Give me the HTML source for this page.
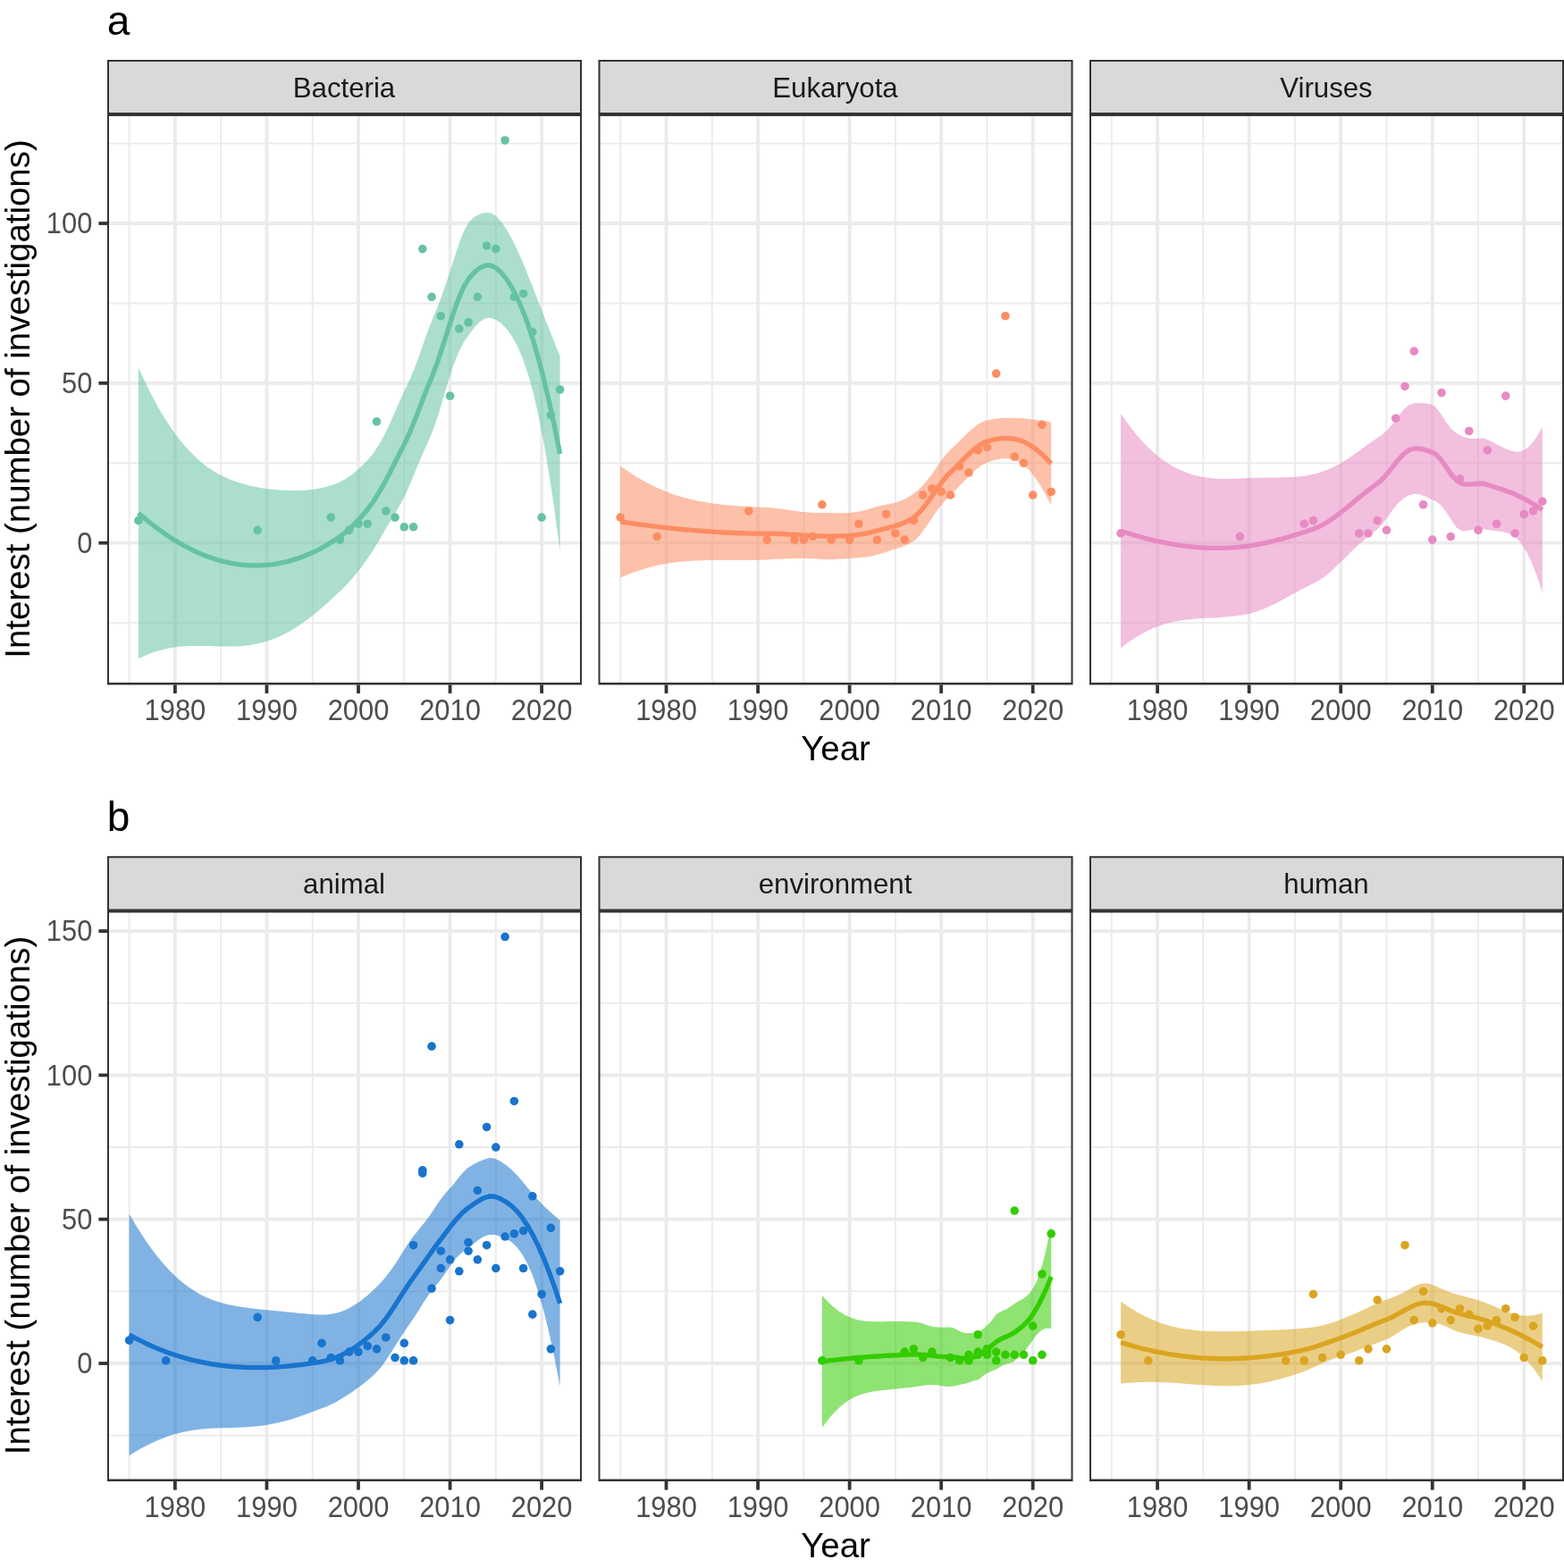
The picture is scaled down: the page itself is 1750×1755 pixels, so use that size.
<!DOCTYPE html>
<html><head><meta charset="utf-8"><title>Interest over time</title>
<style>html,body{margin:0;padding:0;background:#fff;overflow:hidden;}svg{display:block;}text{font-family:"Liberation Sans",Arial,sans-serif;}</style></head><body>
<svg width="1750" height="1755" viewBox="0 0 1750 1755">
<rect x="0" y="0" width="1750" height="1755" fill="#fff"/>
<clipPath id="clip00"><rect x="120" y="128" width="531" height="638.5"/></clipPath>
<g clip-path="url(#clip00)">
<line x1="144.62" y1="128" x2="144.62" y2="766.5" stroke="#EBEBEB" stroke-width="1.9"/>
<line x1="247.18" y1="128" x2="247.18" y2="766.5" stroke="#EBEBEB" stroke-width="1.9"/>
<line x1="349.73" y1="128" x2="349.73" y2="766.5" stroke="#EBEBEB" stroke-width="1.9"/>
<line x1="452.27" y1="128" x2="452.27" y2="766.5" stroke="#EBEBEB" stroke-width="1.9"/>
<line x1="554.83" y1="128" x2="554.83" y2="766.5" stroke="#EBEBEB" stroke-width="1.9"/>
<line x1="120" y1="697.12" x2="651" y2="697.12" stroke="#EBEBEB" stroke-width="1.9"/>
<line x1="120" y1="518.28" x2="651" y2="518.28" stroke="#EBEBEB" stroke-width="1.9"/>
<line x1="120" y1="339.43" x2="651" y2="339.43" stroke="#EBEBEB" stroke-width="1.9"/>
<line x1="120" y1="160.58" x2="651" y2="160.58" stroke="#EBEBEB" stroke-width="1.9"/>
<line x1="195.9" y1="128" x2="195.9" y2="766.5" stroke="#EBEBEB" stroke-width="3.8"/>
<line x1="298.45" y1="128" x2="298.45" y2="766.5" stroke="#EBEBEB" stroke-width="3.8"/>
<line x1="401" y1="128" x2="401" y2="766.5" stroke="#EBEBEB" stroke-width="3.8"/>
<line x1="503.55" y1="128" x2="503.55" y2="766.5" stroke="#EBEBEB" stroke-width="3.8"/>
<line x1="606.1" y1="128" x2="606.1" y2="766.5" stroke="#EBEBEB" stroke-width="3.8"/>
<line x1="120" y1="607.7" x2="651" y2="607.7" stroke="#EBEBEB" stroke-width="3.8"/>
<line x1="120" y1="428.85" x2="651" y2="428.85" stroke="#EBEBEB" stroke-width="3.8"/>
<line x1="120" y1="250" x2="651" y2="250" stroke="#EBEBEB" stroke-width="3.8"/>
<polygon points="154.88,411.18 160.85,424.3 166.82,436.62 172.79,448.15 178.77,458.91 184.74,468.88 190.71,478.08 196.68,486.54 202.65,494.26 208.62,501.27 214.59,507.61 220.56,513.3 226.54,518.39 232.51,522.92 238.48,526.92 244.45,530.44 250.42,533.53 256.39,536.22 262.36,538.57 268.33,540.59 274.31,542.33 280.28,543.82 286.25,545.08 292.22,546.14 298.19,547.02 304.16,547.73 310.13,548.27 316.1,548.66 322.08,548.9 328.05,548.98 334.02,548.9 339.99,548.64 345.96,548.18 351.93,547.49 357.9,546.54 363.87,545.26 369.85,543.61 375.82,541.5 381.79,538.85 387.76,535.41 393.73,531.21 399.7,526.32 405.67,520.81 411.64,514.66 417.62,507.43 423.59,498.59 429.56,487.91 435.53,475.55 441.5,462.12 447.47,448.53 453.44,435.83 459.41,422.87 465.39,408.21 471.36,391.62 477.33,374.32 483.3,358.8 489.27,344.3 495.24,328.46 501.21,311.04 507.18,292.38 513.16,273.95 519.13,258.28 525.1,248.25 531.07,242.75 537.04,239.52 543.01,237.92 548.98,238.26 554.95,241.77 560.93,248.33 566.9,256.96 572.87,267.5 578.84,279.74 584.81,293.35 590.78,307.94 596.75,323.09 602.72,338.4 608.7,353.63 614.67,368.72 620.64,383.8 626.61,399.03 626.61,616.95 620.64,572.49 614.67,532.34 608.7,496.75 602.72,465.93 596.75,439.91 590.78,418.49 584.81,401.15 578.84,387.32 572.87,376.48 566.9,368.2 560.93,362.1 554.95,357.92 548.98,355.74 543.01,356.27 537.04,359.95 531.07,366.34 525.1,374.02 519.13,382.64 513.16,394.32 507.18,409.37 501.21,427.65 495.24,447.94 489.27,467.91 483.3,484.63 477.33,498.14 471.36,511.63 465.39,526.01 459.41,540.86 453.44,554.35 447.47,565.3 441.5,575.43 435.53,585.33 429.56,595.38 423.59,605.63 417.62,615.67 411.64,624.77 405.67,632.88 399.7,640.66 393.73,647.93 387.76,654.58 381.79,660.54 375.82,666.04 369.85,671.51 363.87,676.9 357.9,682.13 351.93,687.15 345.96,691.91 339.99,696.37 334.02,700.51 328.05,704.3 322.08,707.73 316.1,710.8 310.13,713.51 304.16,715.86 298.19,717.86 292.22,719.52 286.25,720.85 280.28,721.89 274.31,722.65 268.33,723.16 262.36,723.46 256.39,723.57 250.42,723.55 244.45,723.43 238.48,723.26 232.51,723.08 226.54,722.94 220.56,722.88 214.59,722.95 208.62,723.18 202.65,723.61 196.68,724.28 190.71,725.22 184.74,726.43 178.77,727.95 172.79,729.78 166.82,731.94 160.85,734.42 154.88,737.24" fill="#66C2A5" fill-opacity="0.55"/>
<circle cx="154.88" cy="582.66" r="4.8" fill="#66C2A5"/>
<circle cx="288.19" cy="593.39" r="4.8" fill="#66C2A5"/>
<circle cx="370.24" cy="579.08" r="4.8" fill="#66C2A5"/>
<circle cx="380.49" cy="604.12" r="4.8" fill="#66C2A5"/>
<circle cx="390.75" cy="593.39" r="4.8" fill="#66C2A5"/>
<circle cx="401" cy="586.24" r="4.8" fill="#66C2A5"/>
<circle cx="411.25" cy="586.24" r="4.8" fill="#66C2A5"/>
<circle cx="421.51" cy="471.77" r="4.8" fill="#66C2A5"/>
<circle cx="431.76" cy="571.93" r="4.8" fill="#66C2A5"/>
<circle cx="442.02" cy="579.08" r="4.8" fill="#66C2A5"/>
<circle cx="452.27" cy="589.82" r="4.8" fill="#66C2A5"/>
<circle cx="462.53" cy="589.82" r="4.8" fill="#66C2A5"/>
<circle cx="472.79" cy="278.62" r="4.8" fill="#66C2A5"/>
<circle cx="483.04" cy="332.27" r="4.8" fill="#66C2A5"/>
<circle cx="493.3" cy="353.73" r="4.8" fill="#66C2A5"/>
<circle cx="503.55" cy="443.16" r="4.8" fill="#66C2A5"/>
<circle cx="513.81" cy="368.04" r="4.8" fill="#66C2A5"/>
<circle cx="524.06" cy="360.89" r="4.8" fill="#66C2A5"/>
<circle cx="534.32" cy="332.27" r="4.8" fill="#66C2A5"/>
<circle cx="544.57" cy="275.04" r="4.8" fill="#66C2A5"/>
<circle cx="554.83" cy="278.62" r="4.8" fill="#66C2A5"/>
<circle cx="565.08" cy="157" r="4.8" fill="#66C2A5"/>
<circle cx="575.34" cy="332.27" r="4.8" fill="#66C2A5"/>
<circle cx="585.59" cy="328.69" r="4.8" fill="#66C2A5"/>
<circle cx="595.85" cy="371.62" r="4.8" fill="#66C2A5"/>
<circle cx="606.1" cy="579.08" r="4.8" fill="#66C2A5"/>
<circle cx="616.36" cy="464.62" r="4.8" fill="#66C2A5"/>
<circle cx="626.61" cy="436" r="4.8" fill="#66C2A5"/>
<polyline points="154.88,574.21 160.85,579.36 166.82,584.28 172.79,588.97 178.77,593.43 184.74,597.66 190.71,601.65 196.68,605.41 202.65,608.94 208.62,612.23 214.59,615.28 220.56,618.09 226.54,620.67 232.51,623 238.48,625.09 244.45,626.94 250.42,628.54 256.39,629.9 262.36,631.01 268.33,631.87 274.31,632.49 280.28,632.85 286.25,632.97 292.22,632.83 298.19,632.44 304.16,631.79 310.13,630.89 316.1,629.73 322.08,628.32 328.05,626.64 334.02,624.7 339.99,622.51 345.96,620.05 351.93,617.32 357.9,614.34 363.87,611.08 369.85,607.56 375.82,603.77 381.79,599.7 387.76,595 393.73,589.57 399.7,583.49 405.67,576.85 411.64,569.71 417.62,561.55 423.59,552.11 429.56,541.64 435.53,530.44 441.5,518.77 447.47,506.92 453.44,495.09 459.41,481.87 465.39,467.11 471.36,451.62 477.33,436.23 483.3,421.72 489.27,406.1 495.24,388.2 501.21,369.34 507.18,350.88 513.16,334.14 519.13,320.46 525.1,311.13 531.07,304.54 537.04,299.74 543.01,297.1 548.98,297 554.95,299.84 560.93,305.22 566.9,312.58 572.87,321.99 578.84,333.53 584.81,347.25 590.78,363.21 596.75,381.5 602.72,402.16 608.7,425.19 614.67,450.53 620.64,478.15 626.61,507.99" fill="none" stroke="#66C2A5" stroke-width="5.35" stroke-linejoin="round"/>
</g>
<rect x="120" y="67" width="531" height="61" fill="#D9D9D9"/>
<path d="M120 67H651V69H120ZM120 126H651V130H120ZM120 764.1H651V766.5H120ZM120 67H122V766.5H120ZM649 67H651V766.5H649Z" fill="#333333"/>
<text x="385" y="109" font-size="31.2" fill="#1A1A1A" text-anchor="middle">Bacteria</text>
<line x1="195.9" y1="766.5" x2="195.9" y2="776.1" stroke="#333333" stroke-width="3.8"/>
<text transform="translate(195.9,806) scale(1,1.055)" font-size="30.9" fill="#4D4D4D" text-anchor="middle">1980</text>
<line x1="298.45" y1="766.5" x2="298.45" y2="776.1" stroke="#333333" stroke-width="3.8"/>
<text transform="translate(298.45,806) scale(1,1.055)" font-size="30.9" fill="#4D4D4D" text-anchor="middle">1990</text>
<line x1="401" y1="766.5" x2="401" y2="776.1" stroke="#333333" stroke-width="3.8"/>
<text transform="translate(401,806) scale(1,1.055)" font-size="30.9" fill="#4D4D4D" text-anchor="middle">2000</text>
<line x1="503.55" y1="766.5" x2="503.55" y2="776.1" stroke="#333333" stroke-width="3.8"/>
<text transform="translate(503.55,806) scale(1,1.055)" font-size="30.9" fill="#4D4D4D" text-anchor="middle">2010</text>
<line x1="606.1" y1="766.5" x2="606.1" y2="776.1" stroke="#333333" stroke-width="3.8"/>
<text transform="translate(606.1,806) scale(1,1.055)" font-size="30.9" fill="#4D4D4D" text-anchor="middle">2020</text>
<clipPath id="clip01"><rect x="669.5" y="128" width="531" height="638.5"/></clipPath>
<g clip-path="url(#clip01)">
<line x1="694.23" y1="128" x2="694.23" y2="766.5" stroke="#EBEBEB" stroke-width="1.9"/>
<line x1="796.77" y1="128" x2="796.77" y2="766.5" stroke="#EBEBEB" stroke-width="1.9"/>
<line x1="899.33" y1="128" x2="899.33" y2="766.5" stroke="#EBEBEB" stroke-width="1.9"/>
<line x1="1001.88" y1="128" x2="1001.88" y2="766.5" stroke="#EBEBEB" stroke-width="1.9"/>
<line x1="1104.42" y1="128" x2="1104.42" y2="766.5" stroke="#EBEBEB" stroke-width="1.9"/>
<line x1="669.5" y1="697.12" x2="1200.5" y2="697.12" stroke="#EBEBEB" stroke-width="1.9"/>
<line x1="669.5" y1="518.28" x2="1200.5" y2="518.28" stroke="#EBEBEB" stroke-width="1.9"/>
<line x1="669.5" y1="339.43" x2="1200.5" y2="339.43" stroke="#EBEBEB" stroke-width="1.9"/>
<line x1="669.5" y1="160.58" x2="1200.5" y2="160.58" stroke="#EBEBEB" stroke-width="1.9"/>
<line x1="745.5" y1="128" x2="745.5" y2="766.5" stroke="#EBEBEB" stroke-width="3.8"/>
<line x1="848.05" y1="128" x2="848.05" y2="766.5" stroke="#EBEBEB" stroke-width="3.8"/>
<line x1="950.6" y1="128" x2="950.6" y2="766.5" stroke="#EBEBEB" stroke-width="3.8"/>
<line x1="1053.15" y1="128" x2="1053.15" y2="766.5" stroke="#EBEBEB" stroke-width="3.8"/>
<line x1="1155.7" y1="128" x2="1155.7" y2="766.5" stroke="#EBEBEB" stroke-width="3.8"/>
<line x1="669.5" y1="607.7" x2="1200.5" y2="607.7" stroke="#EBEBEB" stroke-width="3.8"/>
<line x1="669.5" y1="428.85" x2="1200.5" y2="428.85" stroke="#EBEBEB" stroke-width="3.8"/>
<line x1="669.5" y1="250" x2="1200.5" y2="250" stroke="#EBEBEB" stroke-width="3.8"/>
<polygon points="694.23,521.42 700.33,525.77 706.43,529.88 712.53,533.75 718.63,537.36 724.73,540.73 730.83,543.86 736.93,546.73 743.03,549.36 749.13,551.76 755.24,553.92 761.34,555.85 767.44,557.57 773.54,559.1 779.64,560.43 785.74,561.6 791.84,562.61 797.94,563.49 804.04,564.25 810.15,564.9 816.25,565.47 822.35,565.97 828.45,566.41 834.55,566.8 840.65,567.15 846.75,567.47 852.85,567.77 858.95,568.05 865.06,568.49 871.16,569.16 877.26,569.99 883.36,570.91 889.46,571.83 895.56,572.67 901.66,573.36 907.76,573.84 913.86,574.07 919.96,574.04 926.07,573.98 932.17,574.09 938.27,574.22 944.37,574.22 950.47,573.94 956.57,573.27 962.67,572.19 968.77,570.74 974.87,569 980.98,567.09 987.08,565.52 993.18,564.45 999.28,563.27 1005.38,561.52 1011.48,558.94 1017.58,555.57 1023.68,551.55 1029.78,546.29 1035.89,539.6 1041.99,531.7 1048.09,523 1054.19,514.24 1060.29,506.5 1066.39,500.56 1072.49,494.65 1078.59,488.62 1084.69,482.8 1090.79,477.55 1096.9,473.34 1103,470.64 1109.1,469.39 1115.2,468.51 1121.3,467.97 1127.4,467.72 1133.5,467.72 1139.6,467.94 1145.7,468.34 1151.81,468.95 1157.91,469.7 1164.01,470.52 1170.11,471.36 1176.21,472.21 1176.21,565.58 1170.11,553.7 1164.01,543.13 1157.91,534.03 1151.81,526.55 1145.7,520.8 1139.6,516.78 1133.5,514.34 1127.4,513.26 1121.3,513.33 1115.2,514.32 1109.1,516.02 1103,518.28 1096.9,521.76 1090.79,526.53 1084.69,532.26 1078.59,538.61 1072.49,545.15 1066.39,551.37 1060.29,557.11 1054.19,563.96 1048.09,572.01 1041.99,580.93 1035.89,590.07 1029.78,598.44 1023.68,604.84 1017.58,608.72 1011.48,611.34 1005.38,613.35 999.28,615.23 993.18,617.18 987.08,619.18 980.98,621.08 974.87,622.53 968.77,623.49 962.67,624.13 956.57,624.61 950.47,625.05 944.37,625.48 938.27,625.86 932.17,626.13 926.07,626.17 919.96,625.94 913.86,625.58 907.76,625.29 901.66,625.12 895.56,625.06 889.46,625.12 883.36,625.28 877.26,625.51 871.16,625.79 865.06,626.09 858.95,626.38 852.85,626.64 846.75,626.83 840.65,626.96 834.55,627.04 828.45,627.08 822.35,627.08 816.25,627.06 810.15,627.04 804.04,627.03 797.94,627.04 791.84,627.1 785.74,627.23 779.64,627.43 773.54,627.74 767.44,628.17 761.34,628.73 755.24,629.44 749.13,630.31 743.03,631.36 736.93,632.59 730.83,634 724.73,635.6 718.63,637.39 712.53,639.38 706.43,641.57 700.33,643.95 694.23,646.52" fill="#FC8D62" fill-opacity="0.55"/>
<circle cx="694.23" cy="579.08" r="4.8" fill="#FC8D62"/>
<circle cx="735.25" cy="600.55" r="4.8" fill="#FC8D62"/>
<circle cx="837.79" cy="571.93" r="4.8" fill="#FC8D62"/>
<circle cx="858.31" cy="604.12" r="4.8" fill="#FC8D62"/>
<circle cx="889.07" cy="604.12" r="4.8" fill="#FC8D62"/>
<circle cx="899.33" cy="604.12" r="4.8" fill="#FC8D62"/>
<circle cx="909.58" cy="600.55" r="4.8" fill="#FC8D62"/>
<circle cx="919.84" cy="564.78" r="4.8" fill="#FC8D62"/>
<circle cx="930.09" cy="604.12" r="4.8" fill="#FC8D62"/>
<circle cx="950.6" cy="604.12" r="4.8" fill="#FC8D62"/>
<circle cx="960.86" cy="586.24" r="4.8" fill="#FC8D62"/>
<circle cx="981.37" cy="604.12" r="4.8" fill="#FC8D62"/>
<circle cx="991.62" cy="575.51" r="4.8" fill="#FC8D62"/>
<circle cx="1001.88" cy="596.97" r="4.8" fill="#FC8D62"/>
<circle cx="1012.13" cy="604.12" r="4.8" fill="#FC8D62"/>
<circle cx="1022.38" cy="582.66" r="4.8" fill="#FC8D62"/>
<circle cx="1032.64" cy="554.05" r="4.8" fill="#FC8D62"/>
<circle cx="1042.89" cy="546.89" r="4.8" fill="#FC8D62"/>
<circle cx="1053.15" cy="550.47" r="4.8" fill="#FC8D62"/>
<circle cx="1063.4" cy="554.05" r="4.8" fill="#FC8D62"/>
<circle cx="1073.66" cy="521.85" r="4.8" fill="#FC8D62"/>
<circle cx="1083.91" cy="529.01" r="4.8" fill="#FC8D62"/>
<circle cx="1094.17" cy="503.97" r="4.8" fill="#FC8D62"/>
<circle cx="1104.42" cy="500.39" r="4.8" fill="#FC8D62"/>
<circle cx="1114.68" cy="418.12" r="4.8" fill="#FC8D62"/>
<circle cx="1124.93" cy="353.73" r="4.8" fill="#FC8D62"/>
<circle cx="1135.19" cy="511.12" r="4.8" fill="#FC8D62"/>
<circle cx="1145.45" cy="518.28" r="4.8" fill="#FC8D62"/>
<circle cx="1155.7" cy="554.05" r="4.8" fill="#FC8D62"/>
<circle cx="1165.95" cy="475.35" r="4.8" fill="#FC8D62"/>
<circle cx="1176.21" cy="550.47" r="4.8" fill="#FC8D62"/>
<polyline points="694.23,583.97 700.33,584.86 706.43,585.72 712.53,586.56 718.63,587.38 724.73,588.17 730.83,588.93 736.93,589.66 743.03,590.36 749.13,591.04 755.24,591.68 761.34,592.29 767.44,592.87 773.54,593.42 779.64,593.93 785.74,594.41 791.84,594.86 797.94,595.26 804.04,595.64 810.15,595.97 816.25,596.27 822.35,596.52 828.45,596.74 834.55,596.92 840.65,597.06 846.75,597.15 852.85,597.2 858.95,597.21 865.06,597.29 871.16,597.48 877.26,597.75 883.36,598.1 889.46,598.48 895.56,598.86 901.66,599.24 907.76,599.57 913.86,599.83 919.96,599.99 926.07,600.08 932.17,600.11 938.27,600.04 944.37,599.85 950.47,599.5 956.57,598.94 962.67,598.16 968.77,597.11 974.87,595.76 980.98,594.08 987.08,592.35 993.18,590.81 999.28,589.25 1005.38,587.43 1011.48,585.14 1017.58,582.15 1023.68,578.19 1029.78,572.36 1035.89,564.84 1041.99,556.32 1048.09,547.5 1054.19,539.1 1060.29,531.81 1066.39,525.97 1072.49,519.9 1078.59,513.62 1084.69,507.53 1090.79,502.04 1096.9,497.55 1103,494.46 1109.1,492.7 1115.2,491.42 1121.3,490.65 1127.4,490.49 1133.5,491.03 1139.6,492.36 1145.7,494.57 1151.81,497.75 1157.91,501.86 1164.01,506.82 1170.11,512.53 1176.21,518.9" fill="none" stroke="#FC8D62" stroke-width="5.35" stroke-linejoin="round"/>
</g>
<rect x="669.5" y="67" width="531" height="61" fill="#D9D9D9"/>
<path d="M669.5 67H1200.5V69H669.5ZM669.5 126H1200.5V130H669.5ZM669.5 764.1H1200.5V766.5H669.5ZM669.5 67H671.5V766.5H669.5ZM1198.5 67H1200.5V766.5H1198.5Z" fill="#333333"/>
<text x="934.5" y="109" font-size="31.2" fill="#1A1A1A" text-anchor="middle">Eukaryota</text>
<line x1="745.5" y1="766.5" x2="745.5" y2="776.1" stroke="#333333" stroke-width="3.8"/>
<text transform="translate(745.5,806) scale(1,1.055)" font-size="30.9" fill="#4D4D4D" text-anchor="middle">1980</text>
<line x1="848.05" y1="766.5" x2="848.05" y2="776.1" stroke="#333333" stroke-width="3.8"/>
<text transform="translate(848.05,806) scale(1,1.055)" font-size="30.9" fill="#4D4D4D" text-anchor="middle">1990</text>
<line x1="950.6" y1="766.5" x2="950.6" y2="776.1" stroke="#333333" stroke-width="3.8"/>
<text transform="translate(950.6,806) scale(1,1.055)" font-size="30.9" fill="#4D4D4D" text-anchor="middle">2000</text>
<line x1="1053.15" y1="766.5" x2="1053.15" y2="776.1" stroke="#333333" stroke-width="3.8"/>
<text transform="translate(1053.15,806) scale(1,1.055)" font-size="30.9" fill="#4D4D4D" text-anchor="middle">2010</text>
<line x1="1155.7" y1="766.5" x2="1155.7" y2="776.1" stroke="#333333" stroke-width="3.8"/>
<text transform="translate(1155.7,806) scale(1,1.055)" font-size="30.9" fill="#4D4D4D" text-anchor="middle">2020</text>
<clipPath id="clip02"><rect x="1219" y="128" width="531" height="638.5"/></clipPath>
<g clip-path="url(#clip02)">
<line x1="1243.82" y1="128" x2="1243.82" y2="766.5" stroke="#EBEBEB" stroke-width="1.9"/>
<line x1="1346.38" y1="128" x2="1346.38" y2="766.5" stroke="#EBEBEB" stroke-width="1.9"/>
<line x1="1448.92" y1="128" x2="1448.92" y2="766.5" stroke="#EBEBEB" stroke-width="1.9"/>
<line x1="1551.47" y1="128" x2="1551.47" y2="766.5" stroke="#EBEBEB" stroke-width="1.9"/>
<line x1="1654.02" y1="128" x2="1654.02" y2="766.5" stroke="#EBEBEB" stroke-width="1.9"/>
<line x1="1219" y1="697.12" x2="1750" y2="697.12" stroke="#EBEBEB" stroke-width="1.9"/>
<line x1="1219" y1="518.28" x2="1750" y2="518.28" stroke="#EBEBEB" stroke-width="1.9"/>
<line x1="1219" y1="339.43" x2="1750" y2="339.43" stroke="#EBEBEB" stroke-width="1.9"/>
<line x1="1219" y1="160.58" x2="1750" y2="160.58" stroke="#EBEBEB" stroke-width="1.9"/>
<line x1="1295.1" y1="128" x2="1295.1" y2="766.5" stroke="#EBEBEB" stroke-width="3.8"/>
<line x1="1397.65" y1="128" x2="1397.65" y2="766.5" stroke="#EBEBEB" stroke-width="3.8"/>
<line x1="1500.2" y1="128" x2="1500.2" y2="766.5" stroke="#EBEBEB" stroke-width="3.8"/>
<line x1="1602.75" y1="128" x2="1602.75" y2="766.5" stroke="#EBEBEB" stroke-width="3.8"/>
<line x1="1705.3" y1="128" x2="1705.3" y2="766.5" stroke="#EBEBEB" stroke-width="3.8"/>
<line x1="1219" y1="607.7" x2="1750" y2="607.7" stroke="#EBEBEB" stroke-width="3.8"/>
<line x1="1219" y1="428.85" x2="1750" y2="428.85" stroke="#EBEBEB" stroke-width="3.8"/>
<line x1="1219" y1="250" x2="1750" y2="250" stroke="#EBEBEB" stroke-width="3.8"/>
<polygon points="1254.08,462.99 1260.05,471.59 1266.02,479.6 1271.99,487.02 1277.97,493.85 1283.94,500.09 1289.91,505.75 1295.88,510.84 1301.85,515.37 1307.82,519.37 1313.79,522.84 1319.76,525.82 1325.74,528.34 1331.71,530.43 1337.68,532.13 1343.65,533.47 1349.62,534.49 1355.59,535.22 1361.56,535.69 1367.53,535.95 1373.51,536.02 1379.48,535.92 1385.45,535.67 1391.42,535.35 1397.39,535.07 1403.36,534.86 1409.33,534.72 1415.3,534.63 1421.28,534.57 1427.25,534.53 1433.22,534.46 1439.19,534.32 1445.16,534.09 1451.13,533.69 1457.1,533.09 1463.07,532.22 1469.05,531.02 1475.02,529.4 1480.99,527.34 1486.96,524.91 1492.93,522.13 1498.9,519.01 1504.87,515.52 1510.84,511.7 1516.82,507.57 1522.79,503.23 1528.76,498.82 1534.73,494.53 1540.7,490.57 1546.67,486.43 1552.64,481 1558.61,474.09 1564.59,466.07 1570.56,458.32 1576.53,453.17 1582.5,451.24 1588.47,450.97 1594.44,451.35 1600.41,452.29 1606.38,455.42 1612.36,463.49 1618.33,472.82 1624.3,480.45 1630.27,485.52 1636.24,488.51 1642.21,490.48 1648.18,491.12 1654.15,490.64 1660.13,490.51 1666.1,492.83 1672.07,496.01 1678.04,499.11 1684.01,501.97 1689.98,504.31 1695.95,505.69 1701.92,505.23 1707.9,502.25 1713.87,496.57 1719.84,488.31 1725.81,477.7 1725.81,663.18 1719.84,645 1713.87,629.55 1707.9,617.12 1701.92,607.85 1695.95,601.59 1689.98,597.84 1684.01,595.82 1678.04,594.76 1672.07,594.07 1666.1,593.29 1660.13,592.31 1654.15,591.95 1648.18,592.66 1642.21,594.05 1636.24,594.46 1630.27,591.12 1624.3,582.76 1618.33,573.22 1612.36,565.59 1606.38,560.85 1600.41,558.39 1594.44,555.51 1588.47,553.17 1582.5,552.65 1576.53,554.31 1570.56,557.85 1564.59,563.1 1558.61,570.21 1552.64,578.63 1546.67,586.84 1540.7,592.73 1534.73,597.28 1528.76,602.13 1522.79,607.3 1516.82,612.79 1510.84,618.55 1504.87,624.46 1498.9,630.37 1492.93,636.1 1486.96,641.45 1480.99,646.21 1475.02,650.21 1469.05,653.33 1463.07,656.19 1457.1,659.27 1451.13,662.5 1445.16,665.8 1439.19,669.09 1433.22,672.31 1427.25,675.39 1421.28,678.27 1415.3,680.91 1409.33,683.25 1403.36,685.27 1397.39,686.93 1391.42,688.2 1385.45,689.1 1379.48,689.79 1373.51,690.35 1367.53,690.79 1361.56,691.17 1355.59,691.5 1349.62,691.83 1343.65,692.19 1337.68,692.62 1331.71,693.17 1325.74,693.87 1319.76,694.77 1313.79,695.9 1307.82,697.29 1301.85,698.98 1295.88,701 1289.91,703.35 1283.94,706.08 1277.97,709.18 1271.99,712.66 1266.02,716.55 1260.05,720.83 1254.08,725.51" fill="#E78AC3" fill-opacity="0.55"/>
<circle cx="1254.08" cy="596.97" r="4.8" fill="#E78AC3"/>
<circle cx="1387.39" cy="600.55" r="4.8" fill="#E78AC3"/>
<circle cx="1459.18" cy="586.24" r="4.8" fill="#E78AC3"/>
<circle cx="1469.43" cy="582.66" r="4.8" fill="#E78AC3"/>
<circle cx="1520.71" cy="596.97" r="4.8" fill="#E78AC3"/>
<circle cx="1530.96" cy="596.97" r="4.8" fill="#E78AC3"/>
<circle cx="1541.22" cy="582.66" r="4.8" fill="#E78AC3"/>
<circle cx="1551.47" cy="593.39" r="4.8" fill="#E78AC3"/>
<circle cx="1561.73" cy="468.2" r="4.8" fill="#E78AC3"/>
<circle cx="1571.98" cy="432.43" r="4.8" fill="#E78AC3"/>
<circle cx="1582.24" cy="393.08" r="4.8" fill="#E78AC3"/>
<circle cx="1592.49" cy="564.78" r="4.8" fill="#E78AC3"/>
<circle cx="1602.75" cy="604.12" r="4.8" fill="#E78AC3"/>
<circle cx="1613" cy="439.58" r="4.8" fill="#E78AC3"/>
<circle cx="1623.26" cy="600.55" r="4.8" fill="#E78AC3"/>
<circle cx="1633.51" cy="536.16" r="4.8" fill="#E78AC3"/>
<circle cx="1643.77" cy="482.51" r="4.8" fill="#E78AC3"/>
<circle cx="1654.02" cy="593.39" r="4.8" fill="#E78AC3"/>
<circle cx="1664.28" cy="503.97" r="4.8" fill="#E78AC3"/>
<circle cx="1674.53" cy="586.24" r="4.8" fill="#E78AC3"/>
<circle cx="1684.79" cy="443.16" r="4.8" fill="#E78AC3"/>
<circle cx="1695.05" cy="596.97" r="4.8" fill="#E78AC3"/>
<circle cx="1705.3" cy="575.51" r="4.8" fill="#E78AC3"/>
<circle cx="1715.55" cy="571.93" r="4.8" fill="#E78AC3"/>
<circle cx="1725.81" cy="561.2" r="4.8" fill="#E78AC3"/>
<polyline points="1254.08,594.25 1260.05,596.21 1266.02,598.07 1271.99,599.84 1277.97,601.51 1283.94,603.08 1289.91,604.55 1295.88,605.92 1301.85,607.18 1307.82,608.33 1313.79,609.37 1319.76,610.3 1325.74,611.11 1331.71,611.8 1337.68,612.38 1343.65,612.83 1349.62,613.16 1355.59,613.36 1361.56,613.43 1367.53,613.37 1373.51,613.18 1379.48,612.85 1385.45,612.39 1391.42,611.78 1397.39,611 1403.36,610.07 1409.33,608.99 1415.3,607.77 1421.28,606.42 1427.25,604.96 1433.22,603.38 1439.19,601.71 1445.16,599.94 1451.13,598.1 1457.1,596.18 1463.07,594.21 1469.05,592.18 1475.02,589.8 1480.99,586.77 1486.96,583.18 1492.93,579.12 1498.9,574.69 1504.87,569.99 1510.84,565.12 1516.82,560.18 1522.79,555.27 1528.76,550.47 1534.73,545.9 1540.7,541.65 1546.67,536.63 1552.64,529.82 1558.61,522.15 1564.59,514.59 1570.56,508.09 1576.53,503.74 1582.5,501.95 1588.47,502.07 1594.44,503.43 1600.41,505.34 1606.38,508.13 1612.36,514.54 1618.33,523.02 1624.3,531.61 1630.27,538.32 1636.24,541.48 1642.21,542.27 1648.18,541.89 1654.15,541.29 1660.13,541.41 1666.1,543.06 1672.07,545.04 1678.04,546.93 1684.01,548.89 1689.98,551.08 1695.95,553.64 1701.92,556.54 1707.9,559.68 1713.87,563.06 1719.84,566.65 1725.81,570.44" fill="none" stroke="#E78AC3" stroke-width="5.35" stroke-linejoin="round"/>
</g>
<rect x="1219" y="67" width="531" height="61" fill="#D9D9D9"/>
<path d="M1219 67H1750V69H1219ZM1219 126H1750V130H1219ZM1219 764.1H1750V766.5H1219ZM1219 67H1221V766.5H1219ZM1748 67H1750V766.5H1748Z" fill="#333333"/>
<text x="1484" y="109" font-size="31.2" fill="#1A1A1A" text-anchor="middle">Viruses</text>
<line x1="1295.1" y1="766.5" x2="1295.1" y2="776.1" stroke="#333333" stroke-width="3.8"/>
<text transform="translate(1295.1,806) scale(1,1.055)" font-size="30.9" fill="#4D4D4D" text-anchor="middle">1980</text>
<line x1="1397.65" y1="766.5" x2="1397.65" y2="776.1" stroke="#333333" stroke-width="3.8"/>
<text transform="translate(1397.65,806) scale(1,1.055)" font-size="30.9" fill="#4D4D4D" text-anchor="middle">1990</text>
<line x1="1500.2" y1="766.5" x2="1500.2" y2="776.1" stroke="#333333" stroke-width="3.8"/>
<text transform="translate(1500.2,806) scale(1,1.055)" font-size="30.9" fill="#4D4D4D" text-anchor="middle">2000</text>
<line x1="1602.75" y1="766.5" x2="1602.75" y2="776.1" stroke="#333333" stroke-width="3.8"/>
<text transform="translate(1602.75,806) scale(1,1.055)" font-size="30.9" fill="#4D4D4D" text-anchor="middle">2010</text>
<line x1="1705.3" y1="766.5" x2="1705.3" y2="776.1" stroke="#333333" stroke-width="3.8"/>
<text transform="translate(1705.3,806) scale(1,1.055)" font-size="30.9" fill="#4D4D4D" text-anchor="middle">2020</text>
<line x1="110.4" y1="607.7" x2="120" y2="607.7" stroke="#333333" stroke-width="3.8"/>
<text transform="translate(103.4,618.8) scale(1,1.055)" font-size="30.9" fill="#4D4D4D" text-anchor="end">0</text>
<line x1="110.4" y1="428.85" x2="120" y2="428.85" stroke="#333333" stroke-width="3.8"/>
<text transform="translate(103.4,439.95) scale(1,1.055)" font-size="30.9" fill="#4D4D4D" text-anchor="end">50</text>
<line x1="110.4" y1="250" x2="120" y2="250" stroke="#333333" stroke-width="3.8"/>
<text transform="translate(103.4,261.1) scale(1,1.055)" font-size="30.9" fill="#4D4D4D" text-anchor="end">100</text>
<text x="935" y="850.7" font-size="38.4" fill="#000" text-anchor="middle">Year</text>
<text transform="translate(32.9,446.5) rotate(-90)" font-size="38.4" fill="#000" text-anchor="middle">Interest (number of investigations)</text>
<text x="119.8" y="39" font-size="46" fill="#000">a</text>
<clipPath id="clip10"><rect x="120" y="1019.5" width="531" height="638.5"/></clipPath>
<g clip-path="url(#clip10)">
<line x1="144.62" y1="1019.5" x2="144.62" y2="1658" stroke="#EBEBEB" stroke-width="1.9"/>
<line x1="247.18" y1="1019.5" x2="247.18" y2="1658" stroke="#EBEBEB" stroke-width="1.9"/>
<line x1="349.73" y1="1019.5" x2="349.73" y2="1658" stroke="#EBEBEB" stroke-width="1.9"/>
<line x1="452.27" y1="1019.5" x2="452.27" y2="1658" stroke="#EBEBEB" stroke-width="1.9"/>
<line x1="554.83" y1="1019.5" x2="554.83" y2="1658" stroke="#EBEBEB" stroke-width="1.9"/>
<line x1="120" y1="1606.65" x2="651" y2="1606.65" stroke="#EBEBEB" stroke-width="1.9"/>
<line x1="120" y1="1445.35" x2="651" y2="1445.35" stroke="#EBEBEB" stroke-width="1.9"/>
<line x1="120" y1="1284.05" x2="651" y2="1284.05" stroke="#EBEBEB" stroke-width="1.9"/>
<line x1="120" y1="1122.75" x2="651" y2="1122.75" stroke="#EBEBEB" stroke-width="1.9"/>
<line x1="195.9" y1="1019.5" x2="195.9" y2="1658" stroke="#EBEBEB" stroke-width="3.8"/>
<line x1="298.45" y1="1019.5" x2="298.45" y2="1658" stroke="#EBEBEB" stroke-width="3.8"/>
<line x1="401" y1="1019.5" x2="401" y2="1658" stroke="#EBEBEB" stroke-width="3.8"/>
<line x1="503.55" y1="1019.5" x2="503.55" y2="1658" stroke="#EBEBEB" stroke-width="3.8"/>
<line x1="606.1" y1="1019.5" x2="606.1" y2="1658" stroke="#EBEBEB" stroke-width="3.8"/>
<line x1="120" y1="1526" x2="651" y2="1526" stroke="#EBEBEB" stroke-width="3.8"/>
<line x1="120" y1="1364.7" x2="651" y2="1364.7" stroke="#EBEBEB" stroke-width="3.8"/>
<line x1="120" y1="1203.4" x2="651" y2="1203.4" stroke="#EBEBEB" stroke-width="3.8"/>
<line x1="120" y1="1042.1" x2="651" y2="1042.1" stroke="#EBEBEB" stroke-width="3.8"/>
<polygon points="144.62,1358.79 150.73,1369.24 156.83,1379.1 162.93,1388.38 169.03,1397.06 175.13,1405.14 181.23,1412.62 187.33,1419.5 193.43,1425.78 199.53,1431.46 205.64,1436.57 211.74,1441.12 217.84,1445.12 223.94,1448.63 230.04,1451.65 236.14,1454.25 242.24,1456.46 248.34,1458.32 254.44,1459.89 260.55,1461.2 266.65,1462.31 272.75,1463.25 278.85,1464.06 284.95,1464.78 291.05,1465.44 297.15,1466.05 303.25,1466.65 309.35,1467.25 315.46,1467.85 321.56,1468.46 327.66,1469.08 333.76,1469.7 339.86,1470.29 345.96,1470.82 352.06,1471.25 358.16,1471.51 364.26,1471.47 370.36,1470.86 376.47,1469.63 382.57,1467.74 388.67,1465.16 394.77,1461.87 400.87,1457.9 406.97,1453.31 413.07,1448.17 419.17,1442.6 425.27,1436.56 431.38,1429.6 437.48,1421.62 443.58,1412.67 449.68,1403.05 455.78,1393.35 461.88,1384.46 467.98,1376.89 474.08,1369.58 480.18,1361.4 486.29,1352.23 492.39,1343.19 498.49,1335.58 504.59,1328.67 510.69,1321.37 516.79,1313.83 522.89,1307.59 528.99,1303.7 535.09,1300.62 541.19,1297.95 547.3,1296.1 553.4,1296.41 559.5,1299.42 565.6,1303.45 571.7,1308.46 577.8,1314.46 583.9,1321.38 590,1328.88 596.1,1336.25 602.21,1343.16 608.31,1349.51 614.41,1355.36 620.51,1360.85 626.61,1366.12 626.61,1551.72 620.51,1520.21 614.41,1491.92 608.31,1467.03 602.21,1445.69 596.1,1428.02 590,1413.94 583.9,1403.19 577.8,1395.36 571.7,1389.86 565.6,1386.12 559.5,1383.66 553.4,1382.09 547.3,1381.98 541.19,1383.93 535.09,1387.93 528.99,1393.07 522.89,1397.7 516.79,1402.09 510.69,1407.87 504.59,1415.69 498.49,1424.77 492.39,1433.17 486.29,1440.54 480.18,1448.44 474.08,1457.62 467.98,1467.57 461.88,1476.83 455.78,1485.57 449.68,1494.69 443.58,1504.23 437.48,1513.96 431.38,1523.33 425.27,1531.55 419.17,1537.9 413.07,1543.38 406.97,1548.41 400.87,1553.08 394.77,1557.44 388.67,1561.53 382.57,1565.35 376.47,1568.88 370.36,1572.05 364.26,1574.8 358.16,1577.1 352.06,1579.34 345.96,1581.6 339.86,1583.82 333.76,1585.94 327.66,1587.91 321.56,1589.72 315.46,1591.35 309.35,1592.77 303.25,1594 297.15,1595.04 291.05,1595.88 284.95,1596.56 278.85,1597.08 272.75,1597.47 266.65,1597.75 260.55,1597.96 254.44,1598.14 248.34,1598.31 242.24,1598.52 236.14,1598.81 230.04,1599.22 223.94,1599.78 217.84,1600.53 211.74,1601.49 205.64,1602.69 199.53,1604.14 193.43,1605.87 187.33,1607.86 181.23,1610.13 175.13,1612.67 169.03,1615.47 162.93,1618.52 156.83,1621.81 150.73,1625.34 144.62,1629.08" fill="#1874CD" fill-opacity="0.55"/>
<circle cx="144.62" cy="1500.19" r="4.8" fill="#1874CD"/>
<circle cx="185.65" cy="1522.77" r="4.8" fill="#1874CD"/>
<circle cx="288.19" cy="1474.38" r="4.8" fill="#1874CD"/>
<circle cx="308.71" cy="1522.77" r="4.8" fill="#1874CD"/>
<circle cx="349.73" cy="1522.77" r="4.8" fill="#1874CD"/>
<circle cx="359.98" cy="1503.42" r="4.8" fill="#1874CD"/>
<circle cx="370.24" cy="1519.55" r="4.8" fill="#1874CD"/>
<circle cx="380.49" cy="1522.77" r="4.8" fill="#1874CD"/>
<circle cx="390.75" cy="1513.1" r="4.8" fill="#1874CD"/>
<circle cx="401" cy="1513.1" r="4.8" fill="#1874CD"/>
<circle cx="411.25" cy="1506.64" r="4.8" fill="#1874CD"/>
<circle cx="421.51" cy="1509.87" r="4.8" fill="#1874CD"/>
<circle cx="431.76" cy="1496.97" r="4.8" fill="#1874CD"/>
<circle cx="442.02" cy="1519.55" r="4.8" fill="#1874CD"/>
<circle cx="452.27" cy="1503.42" r="4.8" fill="#1874CD"/>
<circle cx="452.27" cy="1522.77" r="4.8" fill="#1874CD"/>
<circle cx="462.53" cy="1393.73" r="4.8" fill="#1874CD"/>
<circle cx="462.53" cy="1522.77" r="4.8" fill="#1874CD"/>
<circle cx="472.79" cy="1309.86" r="4.8" fill="#1874CD"/>
<circle cx="472.79" cy="1313.08" r="4.8" fill="#1874CD"/>
<circle cx="483.04" cy="1171.14" r="4.8" fill="#1874CD"/>
<circle cx="483.04" cy="1442.12" r="4.8" fill="#1874CD"/>
<circle cx="493.3" cy="1400.19" r="4.8" fill="#1874CD"/>
<circle cx="493.3" cy="1419.54" r="4.8" fill="#1874CD"/>
<circle cx="503.55" cy="1409.86" r="4.8" fill="#1874CD"/>
<circle cx="503.55" cy="1477.61" r="4.8" fill="#1874CD"/>
<circle cx="513.81" cy="1280.82" r="4.8" fill="#1874CD"/>
<circle cx="513.81" cy="1422.77" r="4.8" fill="#1874CD"/>
<circle cx="524.06" cy="1390.51" r="4.8" fill="#1874CD"/>
<circle cx="524.06" cy="1400.19" r="4.8" fill="#1874CD"/>
<circle cx="534.32" cy="1332.44" r="4.8" fill="#1874CD"/>
<circle cx="534.32" cy="1409.86" r="4.8" fill="#1874CD"/>
<circle cx="544.57" cy="1261.47" r="4.8" fill="#1874CD"/>
<circle cx="544.57" cy="1393.73" r="4.8" fill="#1874CD"/>
<circle cx="554.83" cy="1284.05" r="4.8" fill="#1874CD"/>
<circle cx="554.83" cy="1419.54" r="4.8" fill="#1874CD"/>
<circle cx="565.08" cy="1048.55" r="4.8" fill="#1874CD"/>
<circle cx="565.08" cy="1384.06" r="4.8" fill="#1874CD"/>
<circle cx="575.34" cy="1232.43" r="4.8" fill="#1874CD"/>
<circle cx="575.34" cy="1380.83" r="4.8" fill="#1874CD"/>
<circle cx="585.59" cy="1377.6" r="4.8" fill="#1874CD"/>
<circle cx="585.59" cy="1419.54" r="4.8" fill="#1874CD"/>
<circle cx="595.85" cy="1338.89" r="4.8" fill="#1874CD"/>
<circle cx="595.85" cy="1471.16" r="4.8" fill="#1874CD"/>
<circle cx="606.1" cy="1448.58" r="4.8" fill="#1874CD"/>
<circle cx="616.36" cy="1374.38" r="4.8" fill="#1874CD"/>
<circle cx="616.36" cy="1509.87" r="4.8" fill="#1874CD"/>
<circle cx="626.61" cy="1422.77" r="4.8" fill="#1874CD"/>
<polyline points="144.62,1493.93 150.73,1497.29 156.83,1500.46 162.93,1503.45 169.03,1506.26 175.13,1508.9 181.23,1511.37 187.33,1513.68 193.43,1515.82 199.53,1517.8 205.64,1519.63 211.74,1521.3 217.84,1522.83 223.94,1524.2 230.04,1525.44 236.14,1526.53 242.24,1527.49 248.34,1528.32 254.44,1529.01 260.55,1529.58 266.65,1530.03 272.75,1530.36 278.85,1530.57 284.95,1530.67 291.05,1530.66 297.15,1530.55 303.25,1530.33 309.35,1530.01 315.46,1529.6 321.56,1529.09 327.66,1528.5 333.76,1527.82 339.86,1527.06 345.96,1526.21 352.06,1525.3 358.16,1524.31 364.26,1523.13 370.36,1521.45 376.47,1519.25 382.57,1516.55 388.67,1513.34 394.77,1509.66 400.87,1505.49 406.97,1500.86 413.07,1495.78 419.17,1490.25 425.27,1484.06 431.38,1476.46 437.48,1467.79 443.58,1458.45 449.68,1448.87 455.78,1439.46 461.88,1430.65 467.98,1422.23 474.08,1413.6 480.18,1404.92 486.29,1396.38 492.39,1388.18 498.49,1380.17 504.59,1372.18 510.69,1364.62 516.79,1357.96 522.89,1352.64 528.99,1348.39 535.09,1344.28 541.19,1340.94 547.3,1339.04 553.4,1339.25 559.5,1341.54 565.6,1344.79 571.7,1349.16 577.8,1354.91 583.9,1362.28 590,1371.41 596.1,1382.13 602.21,1394.42 608.31,1408.27 614.41,1423.64 620.51,1440.53 626.61,1458.92" fill="none" stroke="#1874CD" stroke-width="5.35" stroke-linejoin="round"/>
</g>
<rect x="120" y="958.3" width="531" height="61.2" fill="#D9D9D9"/>
<path d="M120 958.3H651V960.3H120ZM120 1017.5H651V1021.5H120ZM120 1655.6H651V1658H120ZM120 958.3H122V1658H120ZM649 958.3H651V1658H649Z" fill="#333333"/>
<text x="385" y="999.8" font-size="31.2" fill="#1A1A1A" text-anchor="middle">animal</text>
<line x1="195.9" y1="1658" x2="195.9" y2="1667.6" stroke="#333333" stroke-width="3.8"/>
<text transform="translate(195.9,1697.9) scale(1,1.055)" font-size="30.9" fill="#4D4D4D" text-anchor="middle">1980</text>
<line x1="298.45" y1="1658" x2="298.45" y2="1667.6" stroke="#333333" stroke-width="3.8"/>
<text transform="translate(298.45,1697.9) scale(1,1.055)" font-size="30.9" fill="#4D4D4D" text-anchor="middle">1990</text>
<line x1="401" y1="1658" x2="401" y2="1667.6" stroke="#333333" stroke-width="3.8"/>
<text transform="translate(401,1697.9) scale(1,1.055)" font-size="30.9" fill="#4D4D4D" text-anchor="middle">2000</text>
<line x1="503.55" y1="1658" x2="503.55" y2="1667.6" stroke="#333333" stroke-width="3.8"/>
<text transform="translate(503.55,1697.9) scale(1,1.055)" font-size="30.9" fill="#4D4D4D" text-anchor="middle">2010</text>
<line x1="606.1" y1="1658" x2="606.1" y2="1667.6" stroke="#333333" stroke-width="3.8"/>
<text transform="translate(606.1,1697.9) scale(1,1.055)" font-size="30.9" fill="#4D4D4D" text-anchor="middle">2020</text>
<clipPath id="clip11"><rect x="669.5" y="1019.5" width="531" height="638.5"/></clipPath>
<g clip-path="url(#clip11)">
<line x1="694.23" y1="1019.5" x2="694.23" y2="1658" stroke="#EBEBEB" stroke-width="1.9"/>
<line x1="796.77" y1="1019.5" x2="796.77" y2="1658" stroke="#EBEBEB" stroke-width="1.9"/>
<line x1="899.33" y1="1019.5" x2="899.33" y2="1658" stroke="#EBEBEB" stroke-width="1.9"/>
<line x1="1001.88" y1="1019.5" x2="1001.88" y2="1658" stroke="#EBEBEB" stroke-width="1.9"/>
<line x1="1104.42" y1="1019.5" x2="1104.42" y2="1658" stroke="#EBEBEB" stroke-width="1.9"/>
<line x1="669.5" y1="1606.65" x2="1200.5" y2="1606.65" stroke="#EBEBEB" stroke-width="1.9"/>
<line x1="669.5" y1="1445.35" x2="1200.5" y2="1445.35" stroke="#EBEBEB" stroke-width="1.9"/>
<line x1="669.5" y1="1284.05" x2="1200.5" y2="1284.05" stroke="#EBEBEB" stroke-width="1.9"/>
<line x1="669.5" y1="1122.75" x2="1200.5" y2="1122.75" stroke="#EBEBEB" stroke-width="1.9"/>
<line x1="745.5" y1="1019.5" x2="745.5" y2="1658" stroke="#EBEBEB" stroke-width="3.8"/>
<line x1="848.05" y1="1019.5" x2="848.05" y2="1658" stroke="#EBEBEB" stroke-width="3.8"/>
<line x1="950.6" y1="1019.5" x2="950.6" y2="1658" stroke="#EBEBEB" stroke-width="3.8"/>
<line x1="1053.15" y1="1019.5" x2="1053.15" y2="1658" stroke="#EBEBEB" stroke-width="3.8"/>
<line x1="1155.7" y1="1019.5" x2="1155.7" y2="1658" stroke="#EBEBEB" stroke-width="3.8"/>
<line x1="669.5" y1="1526" x2="1200.5" y2="1526" stroke="#EBEBEB" stroke-width="3.8"/>
<line x1="669.5" y1="1364.7" x2="1200.5" y2="1364.7" stroke="#EBEBEB" stroke-width="3.8"/>
<line x1="669.5" y1="1203.4" x2="1200.5" y2="1203.4" stroke="#EBEBEB" stroke-width="3.8"/>
<line x1="669.5" y1="1042.1" x2="1200.5" y2="1042.1" stroke="#EBEBEB" stroke-width="3.8"/>
<polygon points="919.84,1449.89 923.08,1453.51 926.33,1456.88 929.57,1460.02 932.82,1462.9 936.06,1465.53 939.31,1467.9 942.55,1470.02 945.8,1471.89 949.04,1473.5 952.29,1474.88 955.53,1476.03 958.78,1476.96 962.02,1477.69 965.27,1478.25 968.51,1478.66 971.76,1478.93 975,1479.1 978.25,1479.18 981.49,1479.2 984.74,1479.18 987.99,1479.14 991.23,1479.08 994.48,1479.03 997.72,1479 1000.97,1478.99 1004.21,1479 1007.46,1479.05 1010.7,1479.12 1013.95,1479.22 1017.19,1479.33 1020.44,1479.45 1023.68,1479.6 1026.93,1480.07 1030.17,1480.86 1033.42,1481.85 1036.66,1482.9 1039.91,1483.89 1043.15,1484.71 1046.4,1485.29 1049.65,1485.61 1052.89,1485.71 1056.14,1485.66 1059.38,1485.56 1062.63,1485.53 1065.87,1485.98 1069.12,1487.38 1072.36,1489.16 1075.61,1490.79 1078.85,1491.87 1082.1,1492.25 1085.34,1492.11 1088.59,1492.18 1091.83,1491.76 1095.08,1490.64 1098.32,1488.74 1101.57,1485.91 1104.81,1483.06 1108.06,1480.03 1111.3,1475.65 1114.55,1471.34 1117.8,1468.97 1121.04,1467.62 1124.29,1466.33 1127.53,1464.55 1130.78,1462.27 1134.02,1459.9 1137.27,1457.87 1140.51,1456.05 1143.76,1454.18 1147,1452 1150.25,1449.24 1153.49,1445.55 1156.74,1440.52 1159.98,1433.85 1163.23,1425.27 1166.47,1414.63 1169.72,1401.94 1172.96,1387.33 1176.21,1370.94 1176.21,1487.23 1172.96,1486.75 1169.72,1487.07 1166.47,1488.34 1163.23,1490.66 1159.98,1494.03 1156.74,1498.3 1153.49,1503 1150.25,1507.48 1147,1511.58 1143.76,1515.27 1140.51,1518.59 1137.27,1521.59 1134.02,1524.23 1130.78,1525.62 1127.53,1526.31 1124.29,1527.18 1121.04,1528.7 1117.8,1530.74 1114.55,1532.83 1111.3,1533.98 1108.06,1535.18 1104.81,1536.98 1101.57,1538.8 1098.32,1541.35 1095.08,1543.89 1091.83,1545.06 1088.59,1545.8 1085.34,1546.91 1082.1,1548.19 1078.85,1548.99 1075.61,1549.62 1072.36,1550.31 1069.12,1551.06 1065.87,1551.71 1062.63,1552.03 1059.38,1551.92 1056.14,1551.52 1052.89,1550.99 1049.65,1550.48 1046.4,1550.1 1043.15,1549.93 1039.91,1550.01 1036.66,1550.31 1033.42,1550.77 1030.17,1551.31 1026.93,1551.84 1023.68,1552.29 1020.44,1552.64 1017.19,1553 1013.95,1553.37 1010.7,1553.74 1007.46,1554.1 1004.21,1554.44 1000.97,1554.78 997.72,1555.1 994.48,1555.41 991.23,1555.73 987.99,1556.06 984.74,1556.42 981.49,1556.81 978.25,1557.27 975,1557.81 971.76,1558.44 968.51,1559.21 965.27,1560.13 962.02,1561.21 958.78,1562.5 955.53,1564 952.29,1565.74 949.04,1567.73 945.8,1569.97 942.55,1572.49 939.31,1575.29 936.06,1578.36 932.82,1581.71 929.57,1585.33 926.33,1589.23 923.08,1593.39 919.84,1597.82" fill="#33CC00" fill-opacity="0.55"/>
<circle cx="919.84" cy="1522.77" r="4.8" fill="#33CC00"/>
<circle cx="960.86" cy="1522.77" r="4.8" fill="#33CC00"/>
<circle cx="1012.13" cy="1513.1" r="4.8" fill="#33CC00"/>
<circle cx="1022.38" cy="1509.87" r="4.8" fill="#33CC00"/>
<circle cx="1032.64" cy="1519.55" r="4.8" fill="#33CC00"/>
<circle cx="1042.89" cy="1513.1" r="4.8" fill="#33CC00"/>
<circle cx="1063.4" cy="1519.55" r="4.8" fill="#33CC00"/>
<circle cx="1073.66" cy="1522.77" r="4.8" fill="#33CC00"/>
<circle cx="1083.91" cy="1516.32" r="4.8" fill="#33CC00"/>
<circle cx="1083.91" cy="1522.77" r="4.8" fill="#33CC00"/>
<circle cx="1094.17" cy="1493.74" r="4.8" fill="#33CC00"/>
<circle cx="1094.17" cy="1513.1" r="4.8" fill="#33CC00"/>
<circle cx="1094.17" cy="1516.32" r="4.8" fill="#33CC00"/>
<circle cx="1104.42" cy="1509.87" r="4.8" fill="#33CC00"/>
<circle cx="1104.42" cy="1513.1" r="4.8" fill="#33CC00"/>
<circle cx="1104.42" cy="1516.32" r="4.8" fill="#33CC00"/>
<circle cx="1114.68" cy="1513.1" r="4.8" fill="#33CC00"/>
<circle cx="1114.68" cy="1522.77" r="4.8" fill="#33CC00"/>
<circle cx="1124.93" cy="1516.32" r="4.8" fill="#33CC00"/>
<circle cx="1135.19" cy="1355.02" r="4.8" fill="#33CC00"/>
<circle cx="1135.19" cy="1516.32" r="4.8" fill="#33CC00"/>
<circle cx="1145.45" cy="1516.32" r="4.8" fill="#33CC00"/>
<circle cx="1155.7" cy="1484.06" r="4.8" fill="#33CC00"/>
<circle cx="1155.7" cy="1522.77" r="4.8" fill="#33CC00"/>
<circle cx="1165.95" cy="1425.99" r="4.8" fill="#33CC00"/>
<circle cx="1165.95" cy="1516.32" r="4.8" fill="#33CC00"/>
<circle cx="1176.21" cy="1380.83" r="4.8" fill="#33CC00"/>
<polyline points="919.84,1523.86 923.08,1523.45 926.33,1523.06 929.57,1522.67 932.82,1522.3 936.06,1521.94 939.31,1521.59 942.55,1521.26 945.8,1520.93 949.04,1520.61 952.29,1520.31 955.53,1520.01 958.78,1519.73 962.02,1519.45 965.27,1519.19 968.51,1518.93 971.76,1518.69 975,1518.45 978.25,1518.22 981.49,1518.01 984.74,1517.8 987.99,1517.6 991.23,1517.41 994.48,1517.22 997.72,1517.05 1000.97,1516.88 1004.21,1516.72 1007.46,1516.57 1010.7,1516.43 1013.95,1516.3 1017.19,1516.17 1020.44,1516.05 1023.68,1515.94 1026.93,1515.96 1030.17,1516.09 1033.42,1516.31 1036.66,1516.61 1039.91,1516.95 1043.15,1517.32 1046.4,1517.69 1049.65,1518.04 1052.89,1518.35 1056.14,1518.59 1059.38,1518.74 1062.63,1518.78 1065.87,1518.84 1069.12,1519.22 1072.36,1519.74 1075.61,1520.2 1078.85,1520.43 1082.1,1520.22 1085.34,1519.51 1088.59,1518.99 1091.83,1518.41 1095.08,1517.26 1098.32,1515.05 1101.57,1512.35 1104.81,1510.02 1108.06,1507.6 1111.3,1504.81 1114.55,1502.08 1117.8,1499.85 1121.04,1498.16 1124.29,1496.76 1127.53,1495.43 1130.78,1493.94 1134.02,1492.07 1137.27,1489.73 1140.51,1487.32 1143.76,1484.72 1147,1481.79 1150.25,1478.36 1153.49,1474.28 1156.74,1469.41 1159.98,1463.94 1163.23,1457.97 1166.47,1451.49 1169.72,1444.51 1172.96,1437.04 1176.21,1429.08" fill="none" stroke="#33CC00" stroke-width="5.35" stroke-linejoin="round"/>
</g>
<rect x="669.5" y="958.3" width="531" height="61.2" fill="#D9D9D9"/>
<path d="M669.5 958.3H1200.5V960.3H669.5ZM669.5 1017.5H1200.5V1021.5H669.5ZM669.5 1655.6H1200.5V1658H669.5ZM669.5 958.3H671.5V1658H669.5ZM1198.5 958.3H1200.5V1658H1198.5Z" fill="#333333"/>
<text x="934.5" y="999.8" font-size="31.2" fill="#1A1A1A" text-anchor="middle">environment</text>
<line x1="745.5" y1="1658" x2="745.5" y2="1667.6" stroke="#333333" stroke-width="3.8"/>
<text transform="translate(745.5,1697.9) scale(1,1.055)" font-size="30.9" fill="#4D4D4D" text-anchor="middle">1980</text>
<line x1="848.05" y1="1658" x2="848.05" y2="1667.6" stroke="#333333" stroke-width="3.8"/>
<text transform="translate(848.05,1697.9) scale(1,1.055)" font-size="30.9" fill="#4D4D4D" text-anchor="middle">1990</text>
<line x1="950.6" y1="1658" x2="950.6" y2="1667.6" stroke="#333333" stroke-width="3.8"/>
<text transform="translate(950.6,1697.9) scale(1,1.055)" font-size="30.9" fill="#4D4D4D" text-anchor="middle">2000</text>
<line x1="1053.15" y1="1658" x2="1053.15" y2="1667.6" stroke="#333333" stroke-width="3.8"/>
<text transform="translate(1053.15,1697.9) scale(1,1.055)" font-size="30.9" fill="#4D4D4D" text-anchor="middle">2010</text>
<line x1="1155.7" y1="1658" x2="1155.7" y2="1667.6" stroke="#333333" stroke-width="3.8"/>
<text transform="translate(1155.7,1697.9) scale(1,1.055)" font-size="30.9" fill="#4D4D4D" text-anchor="middle">2020</text>
<clipPath id="clip12"><rect x="1219" y="1019.5" width="531" height="638.5"/></clipPath>
<g clip-path="url(#clip12)">
<line x1="1243.82" y1="1019.5" x2="1243.82" y2="1658" stroke="#EBEBEB" stroke-width="1.9"/>
<line x1="1346.38" y1="1019.5" x2="1346.38" y2="1658" stroke="#EBEBEB" stroke-width="1.9"/>
<line x1="1448.92" y1="1019.5" x2="1448.92" y2="1658" stroke="#EBEBEB" stroke-width="1.9"/>
<line x1="1551.47" y1="1019.5" x2="1551.47" y2="1658" stroke="#EBEBEB" stroke-width="1.9"/>
<line x1="1654.02" y1="1019.5" x2="1654.02" y2="1658" stroke="#EBEBEB" stroke-width="1.9"/>
<line x1="1219" y1="1606.65" x2="1750" y2="1606.65" stroke="#EBEBEB" stroke-width="1.9"/>
<line x1="1219" y1="1445.35" x2="1750" y2="1445.35" stroke="#EBEBEB" stroke-width="1.9"/>
<line x1="1219" y1="1284.05" x2="1750" y2="1284.05" stroke="#EBEBEB" stroke-width="1.9"/>
<line x1="1219" y1="1122.75" x2="1750" y2="1122.75" stroke="#EBEBEB" stroke-width="1.9"/>
<line x1="1295.1" y1="1019.5" x2="1295.1" y2="1658" stroke="#EBEBEB" stroke-width="3.8"/>
<line x1="1397.65" y1="1019.5" x2="1397.65" y2="1658" stroke="#EBEBEB" stroke-width="3.8"/>
<line x1="1500.2" y1="1019.5" x2="1500.2" y2="1658" stroke="#EBEBEB" stroke-width="3.8"/>
<line x1="1602.75" y1="1019.5" x2="1602.75" y2="1658" stroke="#EBEBEB" stroke-width="3.8"/>
<line x1="1705.3" y1="1019.5" x2="1705.3" y2="1658" stroke="#EBEBEB" stroke-width="3.8"/>
<line x1="1219" y1="1526" x2="1750" y2="1526" stroke="#EBEBEB" stroke-width="3.8"/>
<line x1="1219" y1="1364.7" x2="1750" y2="1364.7" stroke="#EBEBEB" stroke-width="3.8"/>
<line x1="1219" y1="1203.4" x2="1750" y2="1203.4" stroke="#EBEBEB" stroke-width="3.8"/>
<line x1="1219" y1="1042.1" x2="1750" y2="1042.1" stroke="#EBEBEB" stroke-width="3.8"/>
<polygon points="1254.08,1456.63 1260.05,1460.82 1266.02,1464.73 1271.99,1468.33 1277.97,1471.62 1283.94,1474.61 1289.91,1477.3 1295.88,1479.68 1301.85,1481.77 1307.82,1483.58 1313.79,1485.12 1319.76,1486.42 1325.74,1487.48 1331.71,1488.33 1337.68,1489 1343.65,1489.51 1349.62,1489.87 1355.59,1490.11 1361.56,1490.25 1367.53,1490.3 1373.51,1490.27 1379.48,1490.19 1385.45,1490.07 1391.42,1489.91 1397.39,1489.72 1403.36,1489.51 1409.33,1489.28 1415.3,1489.04 1421.28,1488.79 1427.25,1488.53 1433.22,1488.25 1439.19,1487.95 1445.16,1487.63 1451.13,1487.26 1457.1,1486.82 1463.07,1486.28 1469.05,1485.52 1475.02,1484.5 1480.99,1483.18 1486.96,1481.54 1492.93,1479.61 1498.9,1477.44 1504.87,1475.1 1510.84,1472.58 1516.82,1469.93 1522.79,1467.2 1528.76,1464.4 1534.73,1461.6 1540.7,1458.89 1546.67,1456.37 1552.64,1454.17 1558.61,1451.96 1564.59,1449.44 1570.56,1446.47 1576.53,1443.13 1582.5,1439.82 1588.47,1437.26 1594.44,1436.28 1600.41,1437.23 1606.38,1439.44 1612.36,1442.13 1618.33,1444.72 1624.3,1446.92 1630.27,1448.75 1636.24,1450.33 1642.21,1451.95 1648.18,1453.58 1654.15,1455.28 1660.13,1457.25 1666.1,1459.7 1672.07,1462.33 1678.04,1464.92 1684.01,1467.36 1689.98,1469.52 1695.95,1471.24 1701.92,1472.35 1707.9,1472.73 1713.87,1472.39 1719.84,1471.35 1725.81,1469.69 1725.81,1545.7 1719.84,1536.95 1713.87,1529.12 1707.9,1522.28 1701.92,1516.51 1695.95,1511.79 1689.98,1508.04 1684.01,1505.06 1678.04,1502.66 1672.07,1500.65 1666.1,1498.88 1660.13,1497.26 1654.15,1495.78 1648.18,1494.45 1642.21,1493.25 1636.24,1492 1630.27,1490.3 1624.3,1487.69 1618.33,1484.84 1612.36,1482.43 1606.38,1480.82 1600.41,1480.1 1594.44,1480.16 1588.47,1480.87 1582.5,1482.28 1576.53,1484.55 1570.56,1487.73 1564.59,1491.57 1558.61,1495.47 1552.64,1498.64 1546.67,1500.9 1540.7,1503.14 1534.73,1505.42 1528.76,1507.74 1522.79,1510.08 1516.82,1512.39 1510.84,1514.59 1504.87,1516.62 1498.9,1518.42 1492.93,1520.41 1486.96,1522.74 1480.99,1525.35 1475.02,1528.11 1469.05,1530.87 1463.07,1533.45 1457.1,1535.7 1451.13,1537.79 1445.16,1539.77 1439.19,1541.61 1433.22,1543.3 1427.25,1544.84 1421.28,1546.21 1415.3,1547.42 1409.33,1548.45 1403.36,1549.32 1397.39,1550.02 1391.42,1550.55 1385.45,1550.94 1379.48,1551.17 1373.51,1551.27 1367.53,1551.23 1361.56,1551.09 1355.59,1550.84 1349.62,1550.5 1343.65,1550.1 1337.68,1549.66 1331.71,1549.19 1325.74,1548.71 1319.76,1548.25 1313.79,1547.83 1307.82,1547.46 1301.85,1547.17 1295.88,1546.96 1289.91,1546.85 1283.94,1546.85 1277.97,1546.95 1271.99,1547.17 1266.02,1547.49 1260.05,1547.91 1254.08,1548.42" fill="#DAA520" fill-opacity="0.55"/>
<circle cx="1254.08" cy="1493.74" r="4.8" fill="#DAA520"/>
<circle cx="1284.84" cy="1522.77" r="4.8" fill="#DAA520"/>
<circle cx="1438.67" cy="1522.77" r="4.8" fill="#DAA520"/>
<circle cx="1459.18" cy="1522.77" r="4.8" fill="#DAA520"/>
<circle cx="1469.43" cy="1448.58" r="4.8" fill="#DAA520"/>
<circle cx="1479.69" cy="1519.55" r="4.8" fill="#DAA520"/>
<circle cx="1500.2" cy="1516.32" r="4.8" fill="#DAA520"/>
<circle cx="1520.71" cy="1522.77" r="4.8" fill="#DAA520"/>
<circle cx="1530.96" cy="1509.87" r="4.8" fill="#DAA520"/>
<circle cx="1541.22" cy="1455.03" r="4.8" fill="#DAA520"/>
<circle cx="1551.47" cy="1509.87" r="4.8" fill="#DAA520"/>
<circle cx="1571.98" cy="1393.73" r="4.8" fill="#DAA520"/>
<circle cx="1582.24" cy="1477.61" r="4.8" fill="#DAA520"/>
<circle cx="1592.49" cy="1445.35" r="4.8" fill="#DAA520"/>
<circle cx="1602.75" cy="1480.84" r="4.8" fill="#DAA520"/>
<circle cx="1613" cy="1464.71" r="4.8" fill="#DAA520"/>
<circle cx="1623.26" cy="1477.61" r="4.8" fill="#DAA520"/>
<circle cx="1633.51" cy="1464.71" r="4.8" fill="#DAA520"/>
<circle cx="1643.77" cy="1471.16" r="4.8" fill="#DAA520"/>
<circle cx="1654.02" cy="1487.29" r="4.8" fill="#DAA520"/>
<circle cx="1664.28" cy="1484.06" r="4.8" fill="#DAA520"/>
<circle cx="1674.53" cy="1477.61" r="4.8" fill="#DAA520"/>
<circle cx="1684.79" cy="1464.71" r="4.8" fill="#DAA520"/>
<circle cx="1695.05" cy="1474.38" r="4.8" fill="#DAA520"/>
<circle cx="1705.3" cy="1519.55" r="4.8" fill="#DAA520"/>
<circle cx="1715.55" cy="1484.06" r="4.8" fill="#DAA520"/>
<circle cx="1725.81" cy="1522.77" r="4.8" fill="#DAA520"/>
<polyline points="1254.08,1502.53 1260.05,1504.37 1266.02,1506.11 1271.99,1507.75 1277.97,1509.29 1283.94,1510.73 1289.91,1512.07 1295.88,1513.32 1301.85,1514.47 1307.82,1515.52 1313.79,1516.47 1319.76,1517.33 1325.74,1518.09 1331.71,1518.76 1337.68,1519.33 1343.65,1519.81 1349.62,1520.19 1355.59,1520.47 1361.56,1520.67 1367.53,1520.76 1373.51,1520.77 1379.48,1520.68 1385.45,1520.5 1391.42,1520.23 1397.39,1519.87 1403.36,1519.41 1409.33,1518.86 1415.3,1518.23 1421.28,1517.5 1427.25,1516.68 1433.22,1515.78 1439.19,1514.78 1445.16,1513.7 1451.13,1512.52 1457.1,1511.26 1463.07,1509.86 1469.05,1508.19 1475.02,1506.3 1480.99,1504.26 1486.96,1502.14 1492.93,1500.01 1498.9,1497.93 1504.87,1495.86 1510.84,1493.58 1516.82,1491.16 1522.79,1488.64 1528.76,1486.07 1534.73,1483.51 1540.7,1481.02 1546.67,1478.64 1552.64,1476.41 1558.61,1473.72 1564.59,1470.5 1570.56,1467.1 1576.53,1463.84 1582.5,1461.05 1588.47,1459.07 1594.44,1458.22 1600.41,1458.67 1606.38,1460.13 1612.36,1462.28 1618.33,1464.78 1624.3,1467.31 1630.27,1469.52 1636.24,1471.17 1642.21,1472.6 1648.18,1474.01 1654.15,1475.53 1660.13,1477.25 1666.1,1479.29 1672.07,1481.49 1678.04,1483.79 1684.01,1486.21 1689.98,1488.78 1695.95,1491.52 1701.92,1494.43 1707.9,1497.51 1713.87,1500.75 1719.84,1504.15 1725.81,1507.7" fill="none" stroke="#DAA520" stroke-width="5.35" stroke-linejoin="round"/>
</g>
<rect x="1219" y="958.3" width="531" height="61.2" fill="#D9D9D9"/>
<path d="M1219 958.3H1750V960.3H1219ZM1219 1017.5H1750V1021.5H1219ZM1219 1655.6H1750V1658H1219ZM1219 958.3H1221V1658H1219ZM1748 958.3H1750V1658H1748Z" fill="#333333"/>
<text x="1484" y="999.8" font-size="31.2" fill="#1A1A1A" text-anchor="middle">human</text>
<line x1="1295.1" y1="1658" x2="1295.1" y2="1667.6" stroke="#333333" stroke-width="3.8"/>
<text transform="translate(1295.1,1697.9) scale(1,1.055)" font-size="30.9" fill="#4D4D4D" text-anchor="middle">1980</text>
<line x1="1397.65" y1="1658" x2="1397.65" y2="1667.6" stroke="#333333" stroke-width="3.8"/>
<text transform="translate(1397.65,1697.9) scale(1,1.055)" font-size="30.9" fill="#4D4D4D" text-anchor="middle">1990</text>
<line x1="1500.2" y1="1658" x2="1500.2" y2="1667.6" stroke="#333333" stroke-width="3.8"/>
<text transform="translate(1500.2,1697.9) scale(1,1.055)" font-size="30.9" fill="#4D4D4D" text-anchor="middle">2000</text>
<line x1="1602.75" y1="1658" x2="1602.75" y2="1667.6" stroke="#333333" stroke-width="3.8"/>
<text transform="translate(1602.75,1697.9) scale(1,1.055)" font-size="30.9" fill="#4D4D4D" text-anchor="middle">2010</text>
<line x1="1705.3" y1="1658" x2="1705.3" y2="1667.6" stroke="#333333" stroke-width="3.8"/>
<text transform="translate(1705.3,1697.9) scale(1,1.055)" font-size="30.9" fill="#4D4D4D" text-anchor="middle">2020</text>
<line x1="110.4" y1="1526" x2="120" y2="1526" stroke="#333333" stroke-width="3.8"/>
<text transform="translate(103.4,1537.1) scale(1,1.055)" font-size="30.9" fill="#4D4D4D" text-anchor="end">0</text>
<line x1="110.4" y1="1364.7" x2="120" y2="1364.7" stroke="#333333" stroke-width="3.8"/>
<text transform="translate(103.4,1375.8) scale(1,1.055)" font-size="30.9" fill="#4D4D4D" text-anchor="end">50</text>
<line x1="110.4" y1="1203.4" x2="120" y2="1203.4" stroke="#333333" stroke-width="3.8"/>
<text transform="translate(103.4,1214.5) scale(1,1.055)" font-size="30.9" fill="#4D4D4D" text-anchor="end">100</text>
<line x1="110.4" y1="1042.1" x2="120" y2="1042.1" stroke="#333333" stroke-width="3.8"/>
<text transform="translate(103.4,1053.2) scale(1,1.055)" font-size="30.9" fill="#4D4D4D" text-anchor="end">150</text>
<text x="935" y="1742.9" font-size="38.4" fill="#000" text-anchor="middle">Year</text>
<text transform="translate(32.9,1338) rotate(-90)" font-size="38.4" fill="#000" text-anchor="middle">Interest (number of investigations)</text>
<text x="119.8" y="930" font-size="46" fill="#000">b</text>
</svg></body></html>
